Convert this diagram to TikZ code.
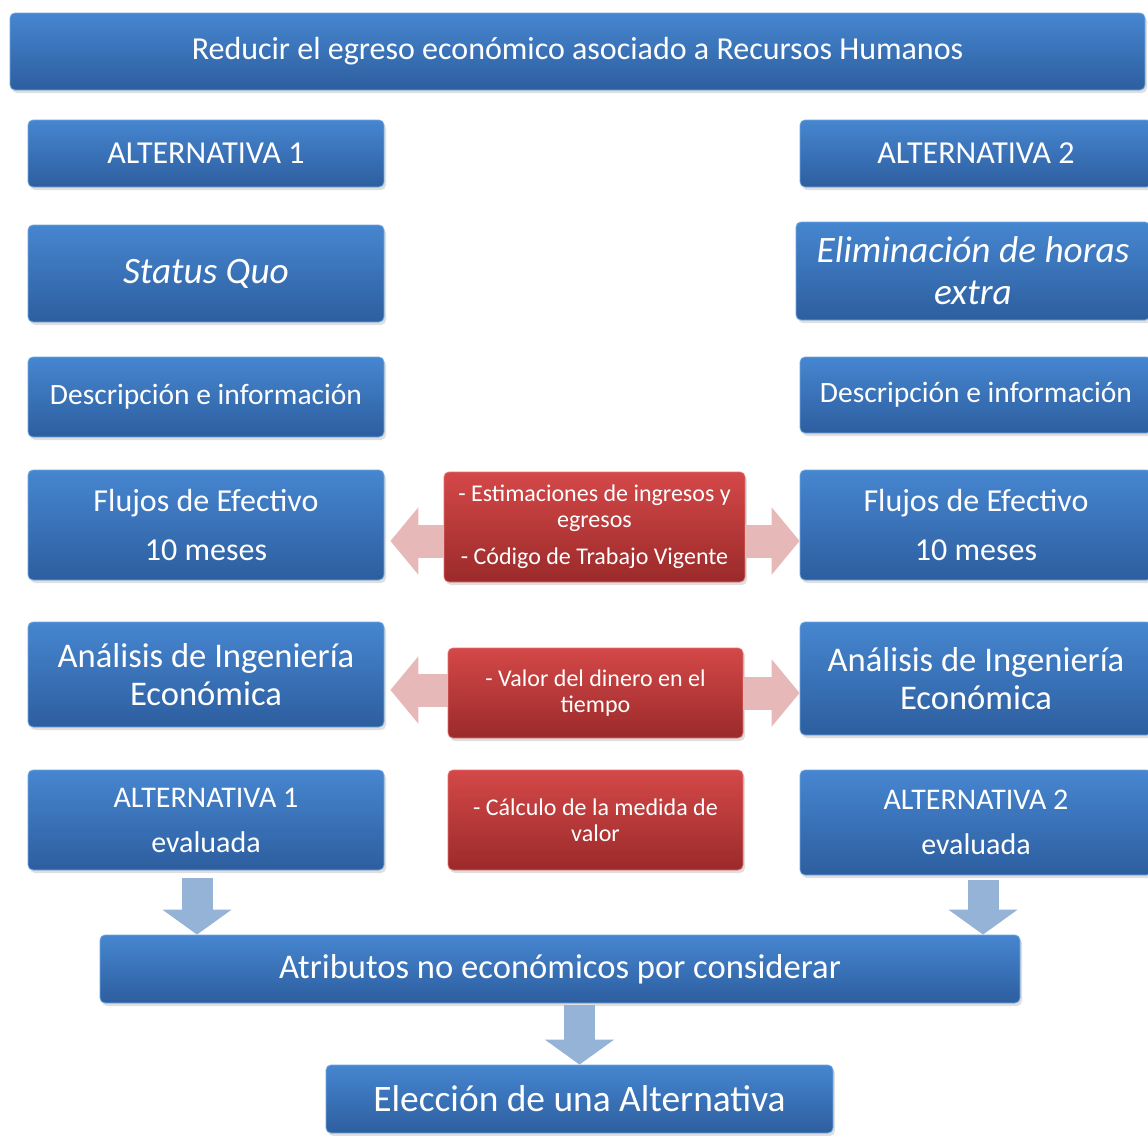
\documentclass[tikz,border=0pt]{standalone}
\usepackage{fontspec}
\setmainfont{Carlito}
\usetikzlibrary{positioning,arrows.meta,shadows}
\definecolor{azulsup}{HTML}{4686D0}
\definecolor{azulinf}{HTML}{2D5E9F}
\definecolor{azulborde}{HTML}{6FA8E0}
\definecolor{rojosup}{HTML}{D44848}
\definecolor{rojoinf}{HTML}{9B2A2A}
\definecolor{rojoborde}{HTML}{E27070}
\definecolor{rosa}{HTML}{E6B9B8}
\definecolor{celeste}{HTML}{95B3D7}

\begin{document}
\begin{tikzpicture}[x=1pt, y=-1pt,
      caja/.style={draw=azulborde, line width=0.8pt, rounded corners=5pt, top color=azulsup,
                   bottom color=azulinf, text=white, align=center, inner sep=2pt,
                   drop shadow={shadow xshift=2pt, shadow yshift=-3pt, opacity=0.25}},
      roja/.style={caja, draw=rojoborde, top color=rojosup, bottom color=rojoinf},
      flechaRosa/.style={rosa, line width=33pt, -{Triangle[width=66pt, length=28pt]}},
      flechaAzul/.style={celeste, line width=31pt, -{Triangle[width=68pt, length=25pt]}}]
    \useasboundingbox (0,0) rectangle (1148,1135);
    \node[caja, minimum width=1135pt, minimum height=77pt, font=\fontsize{32}{37}\selectfont] (meta) at (577.5,51.5) {Reducir el egreso económico asociado a Recursos Humanos};
    \node[caja, minimum width=356pt, minimum height=67pt, font=\fontsize{32}{37}\selectfont] (alt1) at (206,153.5) {ALTERNATIVA 1};
    \node[caja, minimum width=352pt, minimum height=67pt, font=\fontsize{32}{37}\selectfont] (alt2) at (976,153.5) {ALTERNATIVA 2};
    \node[caja, minimum width=356pt, minimum height=97pt, font=\fontsize{37.3}{42}\itshape] (sq) at (206,273.5) {Status Quo};
    \node[caja, minimum width=354pt, minimum height=98pt, font=\fontsize{37.3}{42}\itshape] (elim) at (973,271) {Eliminación de horas\\extra};
    \node[caja, minimum width=356pt, minimum height=80pt, font=\fontsize{29.5}{34}\selectfont] (desc1) at (206,397) {Descripción e información};
    \node[caja, minimum width=352pt, minimum height=76pt, font=\fontsize{29.5}{34}\selectfont] (desc2) at (976,395) {Descripción e información};
    \node[caja, minimum width=356pt, minimum height=110pt, font=\fontsize{32}{38}\selectfont] (flujo1) at (206,525) {Flujos de Efectivo\\[11pt]10 meses};
    \node[caja, minimum width=352pt, minimum height=110pt, font=\fontsize{32}{38}\selectfont] (flujo2) at (976,525) {Flujos de Efectivo\\[11pt]10 meses};
    \node[roja, minimum width=301pt, minimum height=110pt, font=\fontsize{24}{26}\selectfont] (estim) at (594.5,527) {- Estimaciones de ingresos y\\egresos\\[11pt]- Código de Trabajo Vigente};
    \node[caja, minimum width=356pt, minimum height=105pt, font=\fontsize{34.6}{38}\selectfont] (ana1) at (206,674.5) {Análisis de Ingeniería\\Económica};
    \node[caja, minimum width=352pt, minimum height=113pt, font=\fontsize{34.6}{38}\selectfont] (ana2) at (976,678.5) {Análisis de Ingeniería\\Económica};
    \node[roja, minimum width=295pt, minimum height=90pt, font=\fontsize{24}{26}\selectfont] (valor) at (595.5,693) {- Valor del dinero en el\\tiempo};
    \node[caja, minimum width=356pt, minimum height=100pt, font=\fontsize{30}{35}\selectfont] (eval1) at (206,820) {ALTERNATIVA 1\\[10pt]evaluada};
    \node[caja, minimum width=352pt, minimum height=105pt, font=\fontsize{30}{35}\selectfont] (eval2) at (976,822.5) {ALTERNATIVA 2\\[10pt]evaluada};
    \node[roja, minimum width=295pt, minimum height=100pt, font=\fontsize{24}{26}\selectfont] (calc) at (595.5,820) {- Cálculo de la medida de\\valor};
    \node[caja, minimum width=920pt, minimum height=68pt, font=\fontsize{34.6}{38}\selectfont] (atrib) at (560,969) {Atributos no económicos por considerar};
    \node[caja, minimum width=507pt, minimum height=68pt, font=\fontsize{37.4}{42}\selectfont] (elec) at (579.5,1099) {Elección de una Alternativa};
    % flechas rosadas
    \coordinate (e1) at ([yshift=-14pt]estim.west);
    \coordinate (e2) at ([yshift=-14pt]estim.east);
    \coordinate (v1) at ([yshift=3pt]valor.west);
    \coordinate (v2) at ([yshift=0pt]valor.east);
    \draw[flechaRosa, shorten >=6pt] (e1) -- (e1 -| flujo1.east);
    \draw[flechaRosa] (e2) -- (e2 -| flujo2.west);
    \draw[flechaRosa, shorten >=6pt] (v1) -- (v1 -| ana1.east);
    \draw[flechaRosa] (v2) -- (v2 -| ana2.west);
    % flechas azules
    \coordinate (b1) at ([xshift=-9pt, yshift=-8pt]eval1.south);
    \coordinate (b2) at ([xshift=7pt, yshift=-5pt]eval2.south);
    \draw[flechaAzul] (b1) -- (b1 |- atrib.north);
    \draw[flechaAzul] (b2) -- (b2 |- atrib.north);
    \draw[flechaAzul] ([yshift=-2pt]atrib.south -| elec.north) -- (elec.north);
  \end{tikzpicture}
\end{document}
